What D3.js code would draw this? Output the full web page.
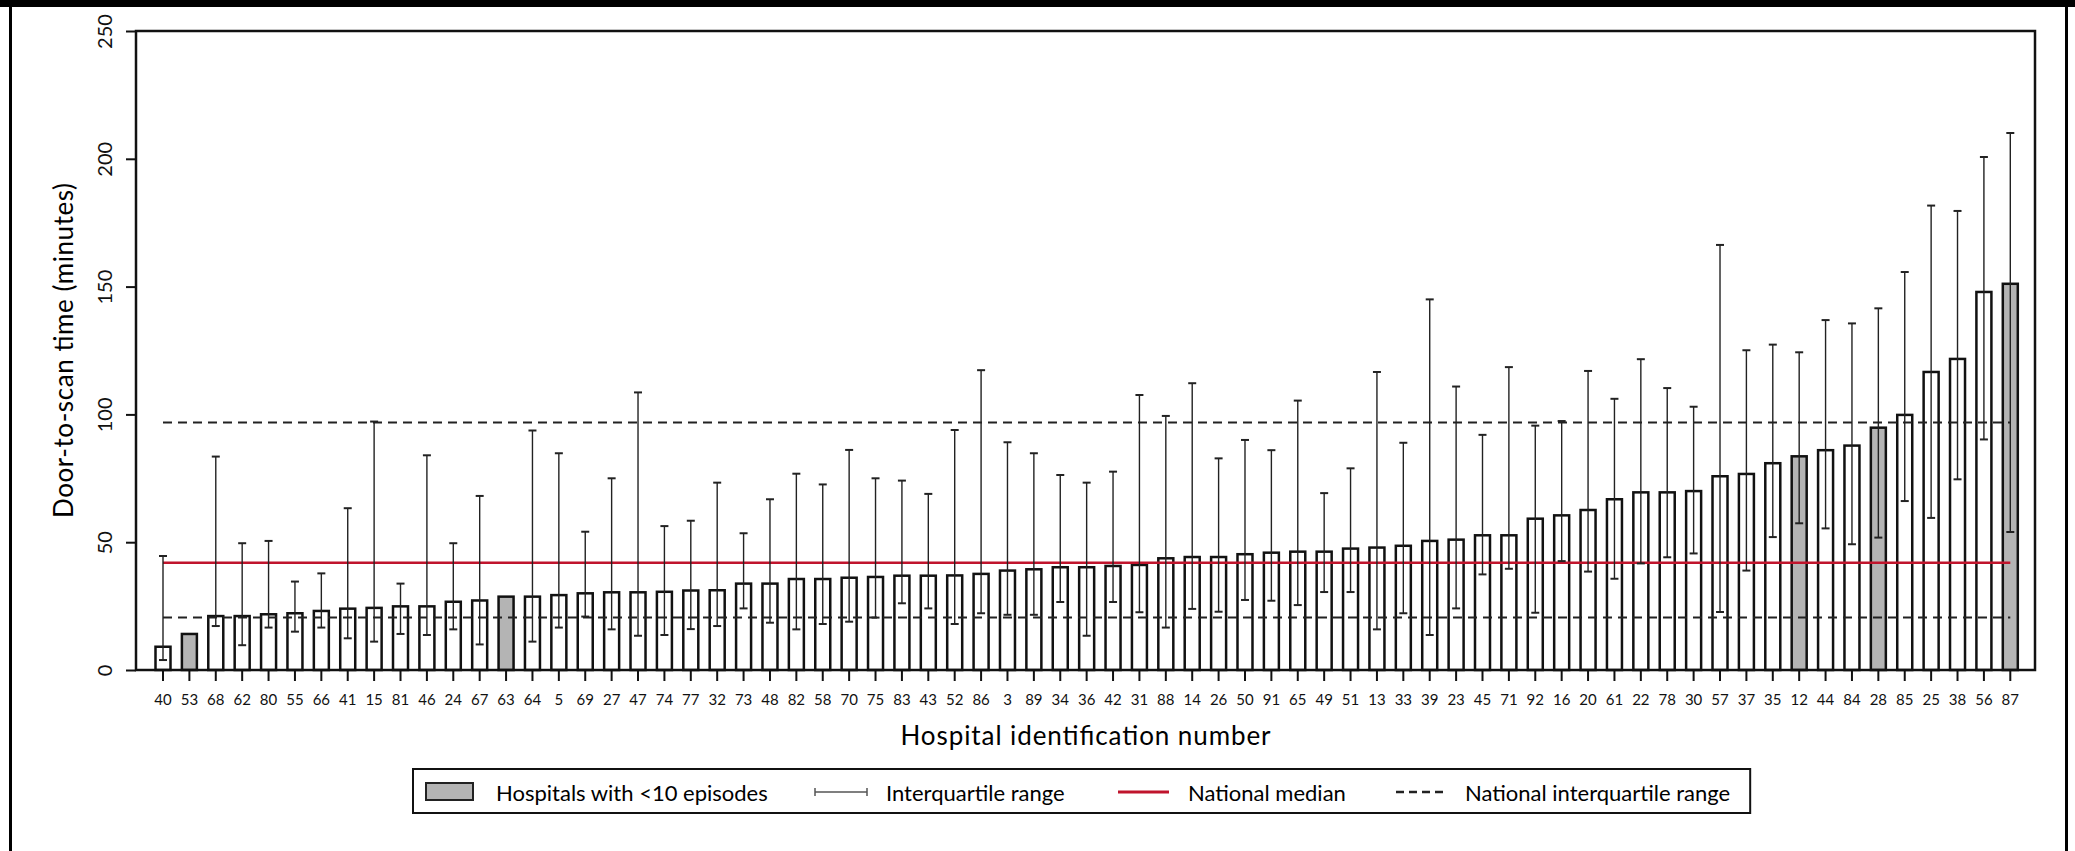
<!DOCTYPE html>
<meta charset="utf-8">
<style>
body { margin: 0; background: #fff; }
svg { display: block; font-family: Lato, "Open Sans", sans-serif; }
.bar { stroke: #111; stroke-width: 2.5px; }
.iqr { stroke: #222; stroke-width: 1.4px; fill: none; }
.cap { stroke: #222; stroke-width: 2px; }
.nat-median { stroke: #c0142c; stroke-width: 2.5px; }
.nat-iqr { stroke: #222; stroke-width: 2px; stroke-dasharray: 9,6; }
.axis path, .axis line { stroke: #111; stroke-width: 2px; }
.axis text { fill: #111; }
</style>
<svg width="2075" height="851"></svg>
<script src="https://cdn.jsdelivr.net/npm/d3@7"></script>
<script>

// hospital ids, in plotted order
var hospitals = [40, 53, 68, 62, 80, 55, 66, 41, 15, 81, 46, 24, 67, 63, 64, 5, 69, 27, 47, 74,
    77, 32, 73, 48, 82, 58, 70, 75, 83, 43, 52, 86, 3, 89, 34, 36, 42, 31, 88, 14,
    26, 50, 91, 65, 49, 51, 13, 33, 39, 23, 45, 71, 92, 16, 20, 61, 22, 78, 30, 57,
    37, 35, 12, 44, 84, 28, 85, 25, 38, 56, 87];

// median door-to-scan time (minutes)
var medians = [9.1, 14.1, 21.1, 21.1, 21.8, 22.2, 23.1, 24.0, 24.3, 24.9, 24.9, 26.7, 27.2, 28.7, 28.7, 29.3, 30.0, 30.4, 30.4, 30.6,
    31.1, 31.2, 33.8, 33.8, 35.6, 35.6, 36.1, 36.4, 36.9, 36.9, 37.0, 37.6, 38.9, 39.4, 40.2, 40.2, 40.7, 41.1, 43.7, 44.2,
    44.2, 45.3, 45.9, 46.3, 46.3, 47.5, 47.9, 48.6, 50.5, 51.0, 52.7, 52.7, 59.2, 60.5, 62.6, 66.8, 69.5, 69.5, 70.0, 75.8,
    76.7, 80.9, 83.6, 86.0, 87.8, 94.8, 99.8, 116.6, 121.7, 147.9, 151.1];

// lower quartile
var q1 = [3.9, null, 17.2, 9.7, 16.6, 15.0, 16.6, 12.4, 11.1, 14.1, 13.7, 15.9, 10.0, null, 11.1, 16.6, 20.9, 15.9, 13.4, 13.7,
    16.0, 17.2, 24.1, 18.5, 15.9, 18.0, 18.9, 20.5, 26.1, 24.1, 18.0, 22.2, 21.6, 21.6, 26.6, 13.4, 26.6, 22.6, 16.6, 23.9,
    22.8, 27.4, 27.1, 25.4, 30.5, 30.5, 15.9, 22.2, 13.7, 24.1, 37.4, 39.6, 22.4, 42.6, 38.5, 35.7, 41.7, 44.1, 45.6, 22.7,
    38.9, 52.0, 57.4, 55.4, 49.2, 51.8, 66.1, 59.5, 74.6, 90.2, 54.0];

// upper quartile
var q3 = [44.6, null, 83.5, 49.6, 50.5, 34.6, 37.8, 63.3, 97.2, 33.8, 84.0, 49.6, 68.1, null, 93.7, 84.8, 54.1, 75.0, 108.6, 56.3,
    58.4, 73.3, 53.5, 66.8, 76.8, 72.6, 86.1, 75.0, 74.1, 68.9, 93.9, 117.3, 89.1, 84.8, 76.3, 73.3, 77.6, 107.6, 99.4, 112.2,
    82.8, 90.0, 86.0, 105.4, 69.2, 78.9, 116.6, 88.9, 145.0, 110.9, 92.0, 118.5, 95.6, 97.4, 117.0, 106.1, 121.6, 110.3, 103.0, 166.3,
    125.1, 127.3, 124.3, 136.9, 135.6, 141.5, 155.7, 181.7, 179.6, 200.7, 210.1];

// hospitals with fewer than 10 episodes
var smallHospitals = [53, 63, 12, 28, 87];

var nationalMedian = 42.0;
var nationalIQR = [20.5, 96.8];

var yTicks = [0, 50, 100, 150, 200, 250];

var legendItems = ["Hospitals with <10 episodes", "Interquartile range", "National median", "National interquartile range"];

var data = hospitals.map(function(h, i) {
    return {id: h, median: medians[i], q1: q1[i], q3: q3[i], small: smallHospitals.indexOf(h) >= 0};
});

var svg = d3.select("svg");

// picture border
svg.append("rect").attr("x", 0).attr("y", 0).attr("width", 2075).attr("height", 7).attr("fill", "#000");
svg.append("line").attr("x1", 10.5).attr("x2", 10.5).attr("y1", 0).attr("y2", 851).attr("stroke", "#000").attr("stroke-width", 3);
svg.append("line").attr("x1", 2066.5).attr("x2", 2066.5).attr("y1", 0).attr("y2", 851).attr("stroke", "#000").attr("stroke-width", 3);

var plot = {left: 136, right: 2035, top: 31, bottom: 670};

var step = 26.39;
var x = d3.scaleBand()
    .domain(hospitals)
    .range([163 - step / 2, 163 - step / 2 + step * hospitals.length])
    .padding(0);

var barW = 15;

var y = d3.scaleLinear()
    .domain([0, 250])
    .range([plot.bottom, plot.top]);

function cx(d) { return x(d) + x.bandwidth() / 2; }

// bars
svg.append("g").selectAll("rect")
    .data(data)
  .enter().append("rect")
    .attr("class", "bar")
    .attr("x", function(d) { return cx(d.id) - barW / 2; })
    .attr("y", function(d) { return y(d.median); })
    .attr("width", barW)
    .attr("height", function(d) { return y(0) - y(d.median); })
    .attr("fill", function(d) { return d.small ? "#b4b4b4" : "#fff"; });

// national lines
var x0 = cx(hospitals[0]), x1 = cx(hospitals[hospitals.length - 1]);
svg.append("line").attr("class", "nat-median")
    .attr("x1", x0).attr("x2", x1).attr("y1", y(nationalMedian)).attr("y2", y(nationalMedian));
svg.selectAll(".nat-iqr")
    .data(nationalIQR)
  .enter().append("line")
    .attr("class", "nat-iqr")
    .attr("x1", x0).attr("x2", x1)
    .attr("y1", function(d) { return y(d); }).attr("y2", function(d) { return y(d); });

// interquartile ranges
var withIqr = data.filter(function(d) { return d.q1 != null; });
var whisk = svg.append("g").selectAll("g")
    .data(withIqr)
  .enter().append("g");

whisk.append("line").attr("class", "iqr")
    .attr("x1", function(d) { return cx(d.id); }).attr("x2", function(d) { return cx(d.id); })
    .attr("y1", function(d) { return y(d.q1); }).attr("y2", function(d) { return y(d.q3); });
whisk.selectAll(".cap")
    .data(function(d) { return [[d.id, d.q1], [d.id, d.q3]]; })
  .enter().append("line").attr("class", "cap")
    .attr("x1", function(d) { return cx(d[0]) - 4; }).attr("x2", function(d) { return cx(d[0]) + 4; })
    .attr("y1", function(d) { return y(d[1]); }).attr("y2", function(d) { return y(d[1]); });

// frame
svg.append("rect")
    .attr("x", plot.left).attr("y", plot.top)
    .attr("width", plot.right - plot.left).attr("height", plot.bottom - plot.top)
    .attr("fill", "none").attr("stroke", "#111").attr("stroke-width", 2.5);

// y axis
var yAxis = svg.append("g")
    .attr("class", "axis")
    .attr("transform", "translate(" + plot.left + ",0)")
    .call(d3.axisLeft(y).tickValues(yTicks).tickSize(10).tickSizeOuter(0));
yAxis.select(".domain").remove();
yAxis.selectAll("text")
    .attr("x", null).attr("dy", null)
    .attr("text-anchor", "middle")
    .attr("dominant-baseline", "central")
    .attr("transform", "translate(-32,0) rotate(-90)")
    .style("font-size", "20px")
    .style("font-family", "Lato, sans-serif");

// x axis
var xAxis = svg.append("g")
    .attr("class", "axis")
    .attr("transform", "translate(0," + plot.bottom + ")")
    .call(d3.axisBottom(x).tickSize(11).tickSizeOuter(0));
xAxis.select(".domain").remove();
xAxis.selectAll("text")
    .attr("y", 30).attr("dy", "0.35em")
    .style("font-size", "15px")
    .style("font-family", "Lato, sans-serif");

// axis titles
svg.append("text")
    .attr("transform", "translate(63," + (plot.top + plot.bottom) / 2 + ") rotate(-90)")
    .attr("text-anchor", "middle")
    .attr("dominant-baseline", "central")
    .attr("textLength", 335)
    .attr("lengthAdjust", "spacing")
    .style("font-size", "26px")
    .text("Door-to-scan time (minutes)");

svg.append("text")
    .attr("x", (plot.left + plot.right) / 2)
    .attr("y", 735)
    .attr("text-anchor", "middle")
    .attr("dominant-baseline", "central")
    .attr("textLength", 370)
    .attr("lengthAdjust", "spacing")
    .style("font-size", "26px")
    .text("Hospital identification number");

// legend
var lg = svg.append("g");
var ly = 792;
var legendBox = lg.append("rect")
    .attr("x", 413).attr("y", 769).attr("height", 44)
    .attr("fill", "#fff").attr("stroke", "#111").attr("stroke-width", 2);

lg.append("rect").attr("x", 426).attr("y", 783).attr("width", 47).attr("height", 17)
    .attr("fill", "#b4b4b4").attr("stroke", "#222").attr("stroke-width", 2);

lg.append("line").attr("x1", 815).attr("x2", 867).attr("y1", ly).attr("y2", ly)
    .attr("stroke", "#555").attr("stroke-width", 1.5);
lg.append("line").attr("x1", 815).attr("x2", 815).attr("y1", ly - 4).attr("y2", ly + 4)
    .attr("stroke", "#555").attr("stroke-width", 1.5);
lg.append("line").attr("x1", 867).attr("x2", 867).attr("y1", ly - 4).attr("y2", ly + 4)
    .attr("stroke", "#555").attr("stroke-width", 1.5);

lg.append("line").attr("class", "nat-median").attr("x1", 1118).attr("x2", 1169).attr("y1", ly).attr("y2", ly)
    .style("stroke-width", "3px");

lg.append("line").attr("x1", 1396).attr("x2", 1443).attr("y1", ly).attr("y2", ly)
    .attr("stroke", "#222").attr("stroke-width", 2.5).attr("stroke-dasharray", "8,5");

var textX = [496, 886, 1188, 1465];
var lastText;
legendItems.forEach(function(t, i) {
    lastText = lg.append("text")
        .attr("x", textX[i]).attr("y", ly)
        .attr("dominant-baseline", "central")
        .style("font-size", "22px")
        .text(t);
});
var endX = textX[3] + lastText.node().getComputedTextLength();
legendBox.attr("width", endX + 20 - 413);

</script>
